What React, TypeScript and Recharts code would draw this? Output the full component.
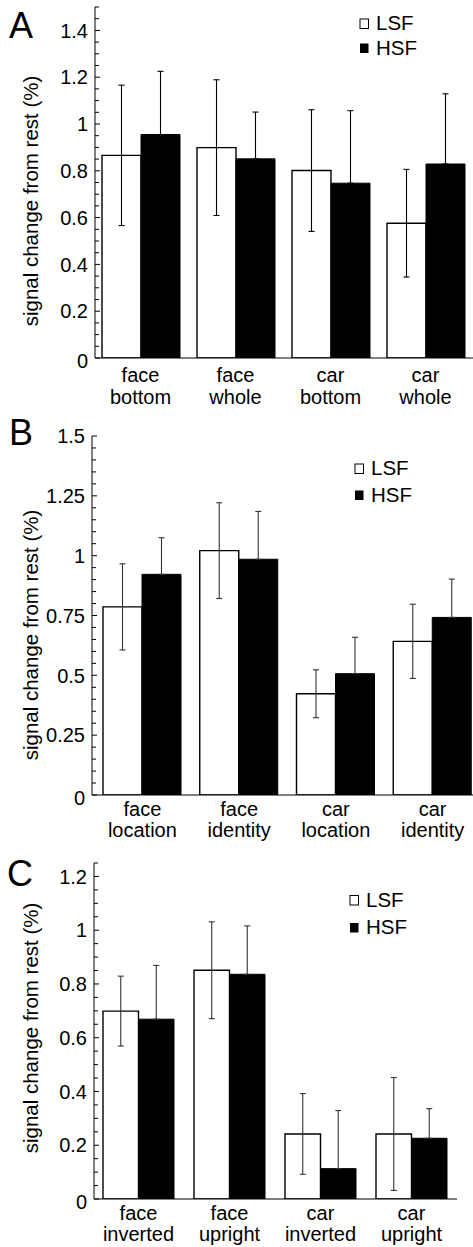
import React from "react";
import { BarChart, Bar, XAxis, YAxis, ErrorBar } from "recharts";

const FONT = "'Liberation Sans', Arial, Helvetica, sans-serif";

// ---- Panel A ----
const catsA = ["face bottom", "face whole", "car bottom", "car whole"];
const lsfA = [0.866, 0.899, 0.801, 0.576];
const lsfErrA = [0.3, 0.29, 0.26, 0.23];
const hsfA = [0.955, 0.851, 0.747, 0.829];
const hsfErrA = [0.27, 0.2, 0.31, 0.3];
const ticksA = [0, 0.2, 0.4, 0.6, 0.8, 1, 1.2, 1.4];
const tickLabelsA = ["0", "0.2", "0.4", "0.6", "0.8", "1", "1.2", "1.4"];

// ---- Panel B ----
const catsB = ["face location", "face identity", "car location", "car identity"];
const lsfB = [0.786, 1.021, 0.423, 0.642];
const lsfErrB = [0.18, 0.2, 0.1, 0.155];
const hsfB = [0.922, 0.985, 0.507, 0.742];
const hsfErrB = [0.153, 0.2, 0.152, 0.16];
const ticksB = [0, 0.25, 0.5, 0.75, 1, 1.25, 1.5];
const tickLabelsB = ["0", "0.25", "0.5", "0.75", "1", "1.25", "1.5"];

// ---- Panel C ----
const catsC = ["face inverted", "face upright", "car inverted", "car upright"];
const lsfC = [0.699, 0.851, 0.242, 0.242];
const lsfErrC = [0.13, 0.18, 0.15, 0.21];
const hsfC = [0.669, 0.836, 0.113, 0.226];
const hsfErrC = [0.2, 0.18, 0.216, 0.11];
const ticksC = [0, 0.2, 0.4, 0.6, 0.8, 1, 1.2];
const tickLabelsC = ["0", "0.2", "0.4", "0.6", "0.8", "1", "1.2"];

const seriesNames = ["LSF", "HSF"];
const yTitle = "signal change from rest (%)";

// HSF lower whiskers sit inside the black bars, so only the upper part is drawn
const buildRows = (cats: string[], lsf: number[], lsfErr: number[], hsf: number[], hsfErr: number[]) =>
  cats.map((cat, i) => ({
    cat,
    lsf: lsf[i],
    hsf: hsf[i],
    lsfErr: [lsfErr[i], lsfErr[i]],
    hsfErr: [0, hsfErr[i]],
  }));

const rowsA = buildRows(catsA, lsfA, lsfErrA, hsfA, hsfErrA);
const rowsB = buildRows(catsB, lsfB, lsfErrB, hsfB, hsfErrB);
const rowsC = buildRows(catsC, lsfC, lsfErrC, hsfC, hsfErrC);

// minor ticks every 0.05 up to the top of the axis
const minorTicks = (max: number) =>
  Array.from({ length: Math.round(max / 0.05) + 1 }, (_, i) => +(i * 0.05).toFixed(2));

type PanelProps = {
  rows: any[];
  top: number;
  width: number;
  height: number;
  axisX: number;
  plotTop: number;
  plotBottom: number;
  padLeft: number;
  barSize: number;
  max: number;
  majors: number[];
  labels: string[];
  line1: number;
  line2: number;
  errColor: string;
};

function Panel(p: PanelProps) {
  const YTick = (props: any) => {
    const { y, payload } = props;
    const idx = p.majors.findIndex((m) => Math.abs(m - payload.value) < 1e-6);
    const major = idx >= 0;
    return (
      <g>
        <line x1={p.axisX} x2={p.axisX + (major ? 5 : 4)} y1={y} y2={y} stroke="#000" strokeWidth={1} />
        {major && (
          <text
            x={p.axisX - 7}
            y={y + (idx === 0 ? 3 : 0)}
            dy="0.36em"
            textAnchor="end"
            fontSize={20}
            fill="#000"
            fontFamily={FONT}
          >
            {p.labels[idx]}
          </text>
        )}
      </g>
    );
  };

  const XTick = (props: any) => {
    const { x, payload } = props;
    const [a, b] = String(payload.value).split(" ");
    return (
      <g>
        <text x={x} y={p.plotBottom + p.line1} textAnchor="middle" fontSize={20} fill="#000" fontFamily={FONT}>
          {a}
        </text>
        <text x={x} y={p.plotBottom + p.line2} textAnchor="middle" fontSize={20} fill="#000" fontFamily={FONT}>
          {b}
        </text>
      </g>
    );
  };

  return (
    <div style={{ position: "absolute", left: 0, top: p.top }}>
      <BarChart
        width={p.width}
        height={p.height}
        data={p.rows}
        margin={{ top: p.plotTop, right: 0, left: 0, bottom: 0 }}
        barGap={0}
        barSize={p.barSize}
      >
        <XAxis
          dataKey="cat"
          height={p.height - p.plotBottom}
          tickLine={false}
          axisLine={{ stroke: "#000", strokeWidth: 1 }}
          padding={{ left: p.padLeft, right: 0 }}
          interval={0}
          tick={<XTick />}
        />
        <YAxis
          type="number"
          width={p.axisX}
          domain={[0, p.max]}
          ticks={minorTicks(p.max)}
          interval={0}
          allowDataOverflow
          tickLine={false}
          axisLine={{ stroke: "#000", strokeWidth: 1 }}
          tick={<YTick />}
        />
        <Bar dataKey="lsf" fill="#fff" stroke="#000" strokeWidth={1.4} isAnimationActive={false}>
          <ErrorBar dataKey="lsfErr" width={3} stroke={p.errColor} strokeWidth={1.1} direction="y" />
        </Bar>
        <Bar dataKey="hsf" fill="#000" stroke="#000" strokeWidth={1} isAnimationActive={false}>
          <ErrorBar dataKey="hsfErr" width={3} stroke={p.errColor} strokeWidth={1.1} direction="y" />
        </Bar>
      </BarChart>
    </div>
  );
}

function LegendBox({ x, y, gap }: { x: number; y: number; gap: number }) {
  return (
    <g fontFamily={FONT} fontSize={20.5} fill="#000">
      <rect x={x} y={y} width={8.5} height={9.5} fill="#fff" stroke="#000" strokeWidth={1} />
      <text x={x + 16} y={y + 11}>{seriesNames[0]}</text>
      <rect x={x} y={y + gap} width={8.5} height={9.5} fill="#000" />
      <text x={x + 16} y={y + gap + 11}>{seriesNames[1]}</text>
    </g>
  );
}

function YTitle({ cx, cy }: { cx: number; cy: number }) {
  return (
    <text
      x={cx}
      y={cy}
      transform={`rotate(-90, ${cx}, ${cy})`}
      textAnchor="middle"
      dominantBaseline="central"
      fontFamily={FONT}
      fontSize={20.5}
      fill="#000"
    >
      {yTitle}
    </text>
  );
}

export default function App() {
  return (
    <div
      style={{
        position: "absolute",
        left: 0,
        top: 0,
        width: 473,
        height: 1247,
        overflow: "hidden",
        background: "#fff",
        fontFamily: FONT,
      }}
    >
      <Panel
        rows={rowsA}
        top={0}
        width={473}
        height={420}
        axisX={95}
        plotTop={7}
        plotBottom={358}
        padLeft={-2}
        barSize={39}
        max={1.5}
        majors={ticksA}
        labels={tickLabelsA}
        line1={24.3}
        line2={45.6}
        errColor="#000"
      />
      <Panel
        rows={rowsB}
        top={410}
        width={481}
        height={440}
        axisX={92}
        plotTop={26}
        plotBottom={385}
        padLeft={2}
        barSize={39}
        max={1.5}
        majors={ticksB}
        labels={tickLabelsB}
        line1={21.2}
        line2={42.4}
        errColor="#333"
      />
      <Panel
        rows={rowsC}
        top={830}
        width={457}
        height={417}
        axisX={94}
        plotTop={33}
        plotBottom={369}
        padLeft={-1}
        barSize={35.5}
        max={1.25}
        majors={ticksC}
        labels={tickLabelsC}
        line1={20.8}
        line2={42}
        errColor="#333"
      />
      <svg
        width={473}
        height={1247}
        style={{ position: "absolute", left: 0, top: 0, pointerEvents: "none" }}
      >
        <g fontFamily={FONT} fontSize={36} fill="#000">
          <text x={9} y={38}>A</text>
          <text x={9} y={445}>B</text>
          <text x={7} y={886}>C</text>
        </g>
        <LegendBox x={360} y={19} gap={24.5} />
        <LegendBox x={355} y={464} gap={26.5} />
        <LegendBox x={350} y={895.5} gap={27.5} />
        <YTitle cx={30} cy={201} />
        <YTitle cx={30} cy={635} />
        <YTitle cx={30} cy={1028} />
      </svg>
    </div>
  );
}
